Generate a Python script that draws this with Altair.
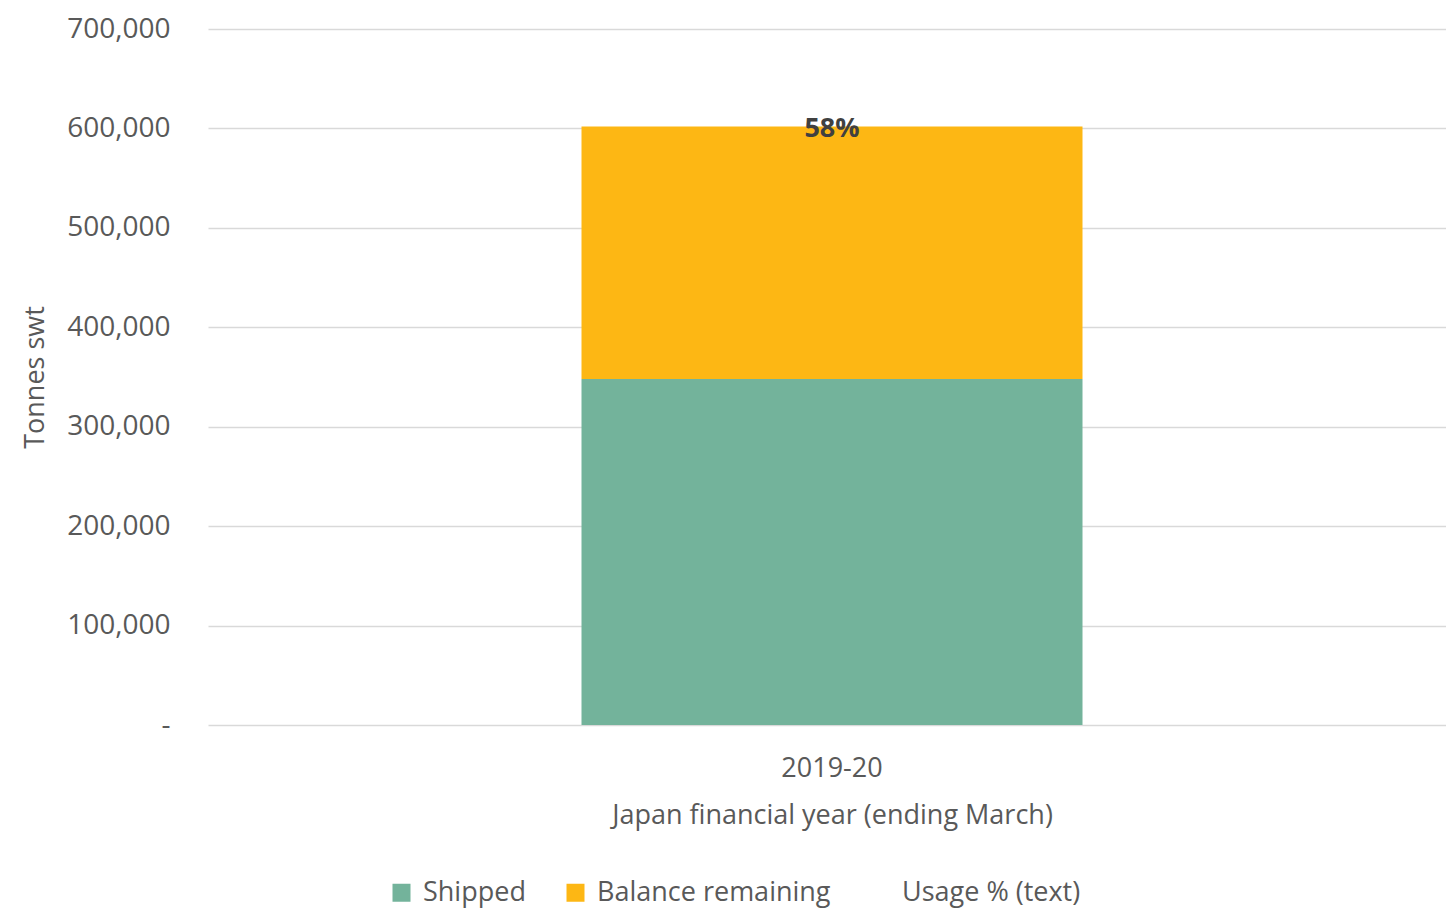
import altair as alt
import pandas as pd

categories = ["2019-20"]
series = ["Shipped", "Balance remaining"]
shipped = [348000]
balance = [254000]
legend_entries = ["Shipped", "Balance remaining", "Usage % (text)"]
colors = ["#73B39B", "#FDB714", "transparent"]
y_ticks = [0, 100000, 200000, 300000, 400000, 500000, 600000, 700000]

rows = []
for i, c in enumerate(categories):
    rows.append({"year": c, "series": "Shipped", "value": shipped[i], "order": 0})
    rows.append({"year": c, "series": "Balance remaining", "value": balance[i], "order": 1})
df = pd.DataFrame(rows)

lab = pd.DataFrame({
    "year": categories,
    "total": [s + b for s, b in zip(shipped, balance)],
    "label": [f"{round(100 * s / (s + b))}%" for s, b in zip(shipped, balance)],
})

FONT = "Open Sans"

bars = alt.Chart(df).mark_bar(size=501, xOffset=5).encode(
    x=alt.X("year:N", sort=categories,
            axis=alt.Axis(title="Japan financial year (ending March)", labelAngle=0,
                          domain=False, ticks=False, tickSize=0, grid=False,
                          labelPadding=30, titlePadding=21, labelOffset=5, titleX=624,
                          labelFontSize=27, titleFontSize=27,
                          labelFont=FONT, titleFont=FONT,
                          labelColor="#595959", titleColor="#595959", titleFontWeight="normal")),
    y=alt.Y("value:Q", stack="zero",
            scale=alt.Scale(domain=[0, 700000], nice=False),
            axis=alt.Axis(title="Tonnes swt", values=y_ticks, domain=False, ticks=False, tickSize=0,
                          grid=True, gridColor="#D9D9D9", gridWidth=1.3,
                          labelExpr="datum.value == 0 ? '-\u00a0\u00a0' : format(datum.value, ',')",
                          labelPadding=38, titlePadding=17,
                          labelFontSize=28, titleFontSize=27,
                          labelFont=FONT, titleFont=FONT,
                          labelColor="#595959", titleColor="#595959", titleFontWeight="normal")),
    color=alt.Color("series:N",
                    scale=alt.Scale(domain=legend_entries, range=colors),
                    legend=alt.Legend(title=None, orient="none", direction="horizontal",
                                      legendX=180, legendY=850, symbolType="square",
                                      symbolSize=324, symbolStrokeWidth=0, labelOffset=8,
                                      columnPadding=36, labelFontSize=27, labelFont=FONT,
                                      labelColor="#595959", padding=0, labelLimit=400)),
    order=alt.Order("order:Q"),
)

text = alt.Chart(lab).mark_text(font=FONT, fontSize=27, fontWeight="bold",
                                color="#404040", baseline="middle", dy=3, dx=5).encode(
    x=alt.X("year:N", sort=categories),
    y=alt.Y("total:Q"),
    text="label:N",
)

chart = alt.layer(bars, text).properties(
    width=1238, height=696,
    padding={"left": 13, "top": 7, "right": 0, "bottom": 6},
).configure_view(stroke=None)

chart.save("out.html", embed_options={"renderer": "svg", "actions": False})
